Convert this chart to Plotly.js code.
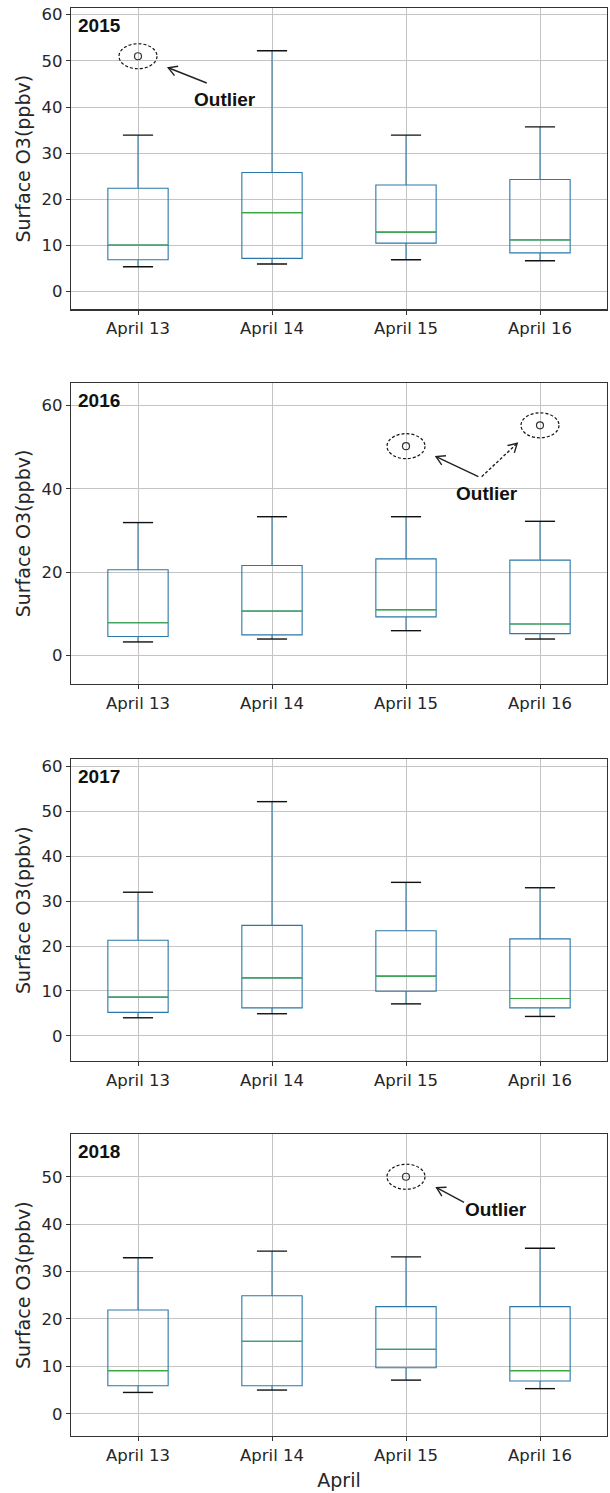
<!DOCTYPE html>
<html>
<head>
<meta charset="utf-8">
<script src="https://cdn.plot.ly/plotly-3.0.1.min.js"></script>
<style>
  html, body { margin: 0; padding: 0; background: #ffffff; }
  #chart { width: 610px; height: 1493px; }
</style>
</head>
<body>
<div id="chart"></div>
<script>
// Surface ozone distribution, 13-16 April, one panel per year
const days = ['April 13', 'April 14', 'April 15', 'April 16'];
const years = ['2015', '2016', '2017', '2018'];

// Box statistics (ppbv), one row per year, one column per day
const whiskerLow  = [[5.4, 6.0, 6.9, 6.7], [3.3, 4.0, 6.0, 4.0], [4.0, 4.9, 7.1, 4.3], [4.5, 5.0, 7.1, 5.3]];
const quart1      = [[6.9, 7.2, 10.5, 8.4], [4.6, 5.0, 9.3, 5.3], [5.2, 6.2, 9.9, 6.2], [5.9, 5.9, 9.7, 6.9]];
const medians     = [[10.1, 17.1, 12.9, 11.2], [7.9, 10.7, 11.0, 7.6], [8.6, 12.9, 13.3, 8.3], [9.1, 15.3, 13.6, 9.1]];
const quart3      = [[22.4, 25.8, 23.1, 24.3], [20.6, 21.6, 23.2, 22.9], [21.3, 24.6, 23.4, 21.6], [21.9, 24.9, 22.6, 22.6]];
const whiskerHigh = [[33.9, 52.2, 33.9, 35.7], [31.9, 33.3, 33.3, 32.2], [32.0, 52.2, 34.2, 33.0], [32.9, 34.3, 33.1, 34.9]];

// Outliers per year
const outlierDays   = [['April 13'], ['April 15', 'April 16'], [], ['April 15']];
const outlierValues = [[51.0], [50.2, 55.2], [], [50.0]];

// ---- styling / geometry ----
const W = 610, H = 1493;
const M = { l: 71, r: 3, t: 8, b: 57 };
const plotW = W - M.l - M.r, plotH = H - M.t - M.b;
const domains = [[0.7889, 1.0], [0.5266, 0.7374], [0.2626, 0.4739], [0.0, 0.2113]];
const yRanges = [[-3.86, 61.45], [-6.78, 65.34], [-5.64, 61.65], [-4.69, 58.96]];
const yDticks = [10, 20, 10, 10];
const xRange = [0.5, 4.5];

const BOX_W = 0.45;
const CAP_W = BOX_W * 0.5;
const BLUE = '#2a78a8', GREEN = '#3aa83a', CAP = '#111111';
const TICKFONT = { family: 'DejaVu Sans, sans-serif', size: 16.5, color: '#262626' };
const TITLEFONT = { family: 'DejaVu Sans, sans-serif', size: 19, color: '#262626' };
const NOTEFONT = { family: 'Liberation Sans, Arial, sans-serif', size: 19, color: '#111111' };

const pos = days.map((d, i) => i + 1);
const dayPos = d => days.indexOf(d) + 1;

function axisSuffix(k) { return k === 0 ? '' : String(k + 1); }

// pixel <-> data helpers for drawing arrowheads of fixed pixel size
function pxPerUnit(k) {
  const xs = plotW / (xRange[1] - xRange[0]);
  const ys = (domains[k][1] - domains[k][0]) * plotH / (yRanges[k][1] - yRanges[k][0]);
  return [xs, ys];
}

const traces = [];
const shapes = [];
const annotations = [];
const layout = {
  width: W, height: H,
  margin: M,
  paper_bgcolor: '#ffffff',
  plot_bgcolor: '#ffffff',
  showlegend: false,
  shapes: shapes,
  annotations: annotations
};

years.forEach((yr, k) => {
  const s = axisSuffix(k);
  const xa = 'x' + s, ya = 'y' + s;

  // boxes with whiskers
  traces.push({
    type: 'box',
    x: pos,
    q1: quart1[k],
    median: medians[k],
    q3: quart3[k],
    lowerfence: whiskerLow[k],
    upperfence: whiskerHigh[k],
    width: BOX_W,
    whiskerwidth: 0,
    boxpoints: false,
    line: { color: BLUE, width: 1.1 },
    fillcolor: 'rgba(0,0,0,0)',
    xaxis: xa, yaxis: ya,
    hoverinfo: 'skip'
  });

  // median lines
  const mx = [], my = [];
  pos.forEach((p, i) => { mx.push(p - BOX_W / 2, p + BOX_W / 2, null); my.push(medians[k][i], medians[k][i], null); });
  traces.push({ type: 'scatter', mode: 'lines', x: mx, y: my, line: { color: GREEN, width: 1.2 },
    xaxis: xa, yaxis: ya, hoverinfo: 'skip' });

  // whisker caps
  const cx = [], cy = [];
  pos.forEach((p, i) => {
    cx.push(p - CAP_W / 2, p + CAP_W / 2, null); cy.push(whiskerLow[k][i], whiskerLow[k][i], null);
    cx.push(p - CAP_W / 2, p + CAP_W / 2, null); cy.push(whiskerHigh[k][i], whiskerHigh[k][i], null);
  });
  traces.push({ type: 'scatter', mode: 'lines', x: cx, y: cy, line: { color: CAP, width: 1.4 },
    xaxis: xa, yaxis: ya, hoverinfo: 'skip' });

  // outliers with a dashed ring around each
  const ox = outlierDays[k].map(dayPos);
  const oy = outlierValues[k];
  if (ox.length) {
    traces.push({ type: 'scatter', mode: 'markers', x: ox, y: oy,
      marker: { symbol: 'circle-open', size: 7, color: '#333333', line: { width: 1.2, color: '#333333' } },
      xaxis: xa, yaxis: ya, hoverinfo: 'skip' });
    ox.forEach((x, i) => {
      shapes.push({ type: 'circle', xref: xa, yref: ya,
        xsizemode: 'pixel', ysizemode: 'pixel', xanchor: x, yanchor: oy[i],
        x0: -19, x1: 19, y0: -12.5, y1: 12.5,
        line: { color: '#111111', width: 1.2, dash: '3px,2px' } });
    });
  }

  layout['xaxis' + s] = {
    domain: [0, 1], anchor: ya, range: xRange,
    tickmode: 'array', tickvals: pos, ticktext: days,
    showgrid: true, gridcolor: '#c4c4c4', gridwidth: 1,
    zeroline: false, showline: true, mirror: true, linecolor: '#333333', linewidth: 1.2,
    ticks: 'outside', ticklen: 4, tickcolor: '#333333', tickfont: TICKFONT,
    title: k === 3 ? { text: 'April', font: TITLEFONT, standoff: 9 } : { text: '' }
  };
  layout['yaxis' + s] = {
    domain: domains[k], anchor: xa, range: yRanges[k],
    tick0: 0, dtick: yDticks[k],
    showgrid: true, gridcolor: '#c4c4c4', gridwidth: 1,
    zeroline: false, showline: true, mirror: true, linecolor: '#333333', linewidth: 1.2,
    ticks: 'outside', ticklen: 4, tickcolor: '#333333', tickfont: TICKFONT,
    title: { text: 'Surface O3(ppbv)', font: TITLEFONT, standoff: 5 }
  };

  // year label
  annotations.push({ xref: xa + ' domain', yref: ya + ' domain', x: 0.009, y: 0.943,
    xanchor: 'left', yanchor: 'middle', showarrow: false,
    text: '<b>' + yr + '</b>', font: NOTEFONT });
});

// "Outlier" notes with arrows (x in day positions, y in ppbv)
const notes = [
  { panel: 0, at: [1.649, 41.6], arrows: [{ from: [1.513, 45.2], to: [1.226, 48.5], dash: 'solid' }] },
  { panel: 1, at: [3.602, 38.9], arrows: [{ from: [3.54, 42.9], to: [3.224, 47.7], dash: 'solid' },
                                            { from: [3.565, 42.9], to: [3.83, 50.9], dash: '3px,2px' }] },
  { panel: 3, at: [3.672, 43.0], arrows: [{ from: [3.433, 44.6], to: [3.228, 47.7], dash: 'solid' }] }
];

notes.forEach(n => {
  const s = axisSuffix(n.panel);
  const xa = 'x' + s, ya = 'y' + s;
  annotations.push({ xref: xa, yref: ya, x: n.at[0], y: n.at[1], showarrow: false,
    text: '<b>Outlier</b>', font: NOTEFONT, xanchor: 'center', yanchor: 'middle' });
  const [sx, sy] = pxPerUnit(n.panel);
  n.arrows.forEach(a => {
    shapes.push({ type: 'line', xref: xa, yref: ya, x0: a.from[0], y0: a.from[1], x1: a.to[0], y1: a.to[1],
      line: { color: '#222222', width: 1.4, dash: a.dash } });
    // open V head, 10 px wings at +/-30 degrees
    const dx = (a.from[0] - a.to[0]) * sx, dy = (a.from[1] - a.to[1]) * sy;
    const len = Math.hypot(dx, dy), ux = dx / len, uy = dy / len;
    const wing = 10, ang = Math.PI / 6;
    const w = [ang, -ang].map(t => {
      const rx = ux * Math.cos(t) - uy * Math.sin(t);
      const ry = ux * Math.sin(t) + uy * Math.cos(t);
      return [a.to[0] + rx * wing / sx, a.to[1] + ry * wing / sy];
    });
    shapes.push({ type: 'path', xref: xa, yref: ya,
      path: 'M' + w[0][0] + ',' + w[0][1] + ' L' + a.to[0] + ',' + a.to[1] + ' L' + w[1][0] + ',' + w[1][1],
      line: { color: '#222222', width: 1.4 } });
  });
});

Plotly.newPlot('chart', traces, layout, { staticPlot: true, displayModeBar: false });
</script>
</body>
</html>
